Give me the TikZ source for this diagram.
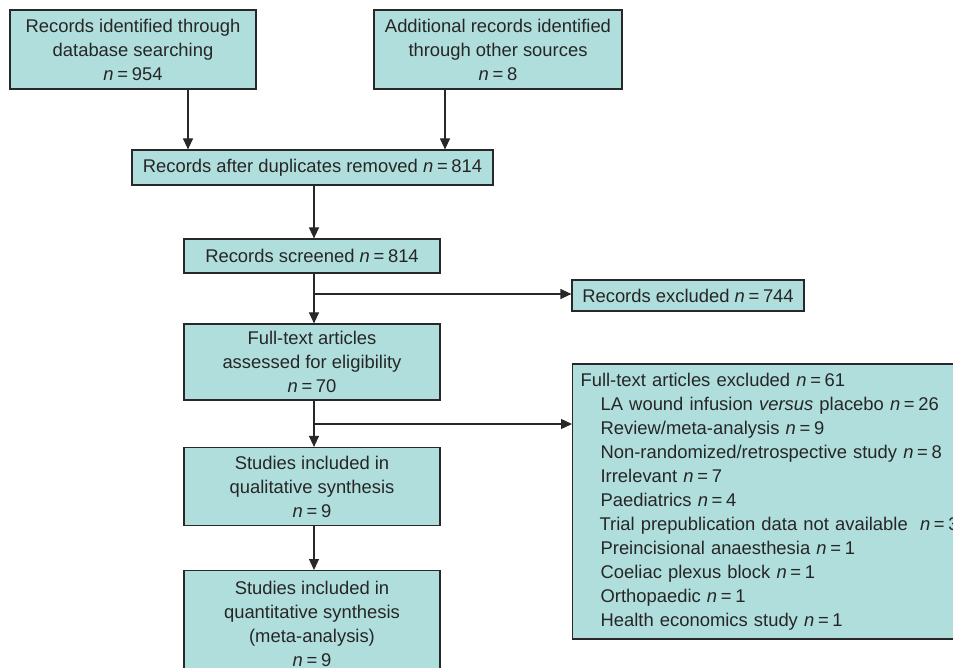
\documentclass[tikz,border=0pt]{standalone}
\usepackage{fontspec}
\setmainfont{Liberation Sans}
\usetikzlibrary{arrows.meta,calc}
\definecolor{boxfill}{RGB}{176,222,220}
\definecolor{boxline}{RGB}{40,40,40}
\newcommand{\nn}[1]{\textit{n}\hspace{0.2em}=\hspace{0.2em}#1}
\begin{document}
\begin{tikzpicture}[x=1pt,y=-1pt,
  box/.style={draw=boxline,fill=boxfill,line width=1.2pt,inner sep=0pt,align=center,
    font={\fontsize{18.4}{24}\selectfont},text=black!85},
  arr/.style={line width=1.2pt,draw=boxline,-{Triangle[length=11pt,width=10pt]}},
  ln/.style={line width=1.2pt,draw=boxline}]
\useasboundingbox (0,0) rectangle (953,668);
\clip (0,0) rectangle (953,668);
\node[box,minimum width=246,minimum height=79] (A) at (133,49.5)
  {Records identified through\\database searching\\\nn{954}};
\node[box,minimum width=248,minimum height=79] (B) at (498,49.5)
  {Additional records identified\\through other sources\\\nn{8}};
\node[box,minimum width=361,minimum height=35] (C) at (312.5,167.5)
  {Records after duplicates removed \nn{814}};
\node[box,minimum width=256,minimum height=34] (D) at (312,256)
  {Records screened \nn{814}};
\node[box,minimum width=232,minimum height=31] (X) at (688,295.5)
  {Records excluded \nn{744}};
\node[box,minimum width=256,minimum height=76] (E) at (312,362)
  {Full-text articles\\assessed for eligibility\\\nn{70}};
\node[box,minimum width=256,minimum height=78] (F) at (312,486.5)
  {Studies included in\\qualitative synthesis\\\nn{9}};
\node[box,minimum width=256,minimum height=106,anchor=north] (G) at (312,570)
  {Studies included in\\quantitative synthesis\\(meta-analysis)\\\nn{9}};
\node[box,align=left,text width=380,inner xsep=8,minimum height=275,anchor=west] (L) at (572,501.5)
  {Full-text articles excluded \nn{61}\\
   \hspace*{20pt}LA wound infusion \textit{versus} placebo \nn{26}\\
   \hspace*{20pt}Review/meta-analysis \nn{9}\\
   \hspace*{20pt}Non-randomized/retrospective study \nn{8}\\
   \hspace*{20pt}Irrelevant \nn{7}\\
   \hspace*{20pt}Paediatrics \nn{4}\\
   \hspace*{19pt}Trial prepublication data not available\ \ \nn{3}\\
   \hspace*{20pt}Preincisional anaesthesia \nn{1}\\
   \hspace*{20pt}Coeliac plexus block \nn{1}\\
   \hspace*{20pt}Orthopaedic \nn{1}\\
   \hspace*{20pt}Health economics study \nn{1}};
\coordinate (xa) at (188,0);
\coordinate (xb) at (445,0);
\coordinate (m) at (314,0);
\coordinate (b1) at (0,294);
\coordinate (b2) at (0,424);
\draw[arr] (A.south -| xa) -- (C.north -| xa);
\draw[arr] (B.south -| xb) -- (C.north -| xb);
\draw[arr] (C.south -| m) -- (D.north -| m);
\draw[arr] (D.south -| m) -- (E.north -| m);
\draw[arr] (m |- b1) -- (X.west |- b1);
\draw[arr] (E.south -| m) -- (F.north -| m);
\draw[arr] (m |- b2) -- (L.west |- b2);
\draw[arr] (F.south -| m) -- (G.north -| m);
\end{tikzpicture}
\end{document}
